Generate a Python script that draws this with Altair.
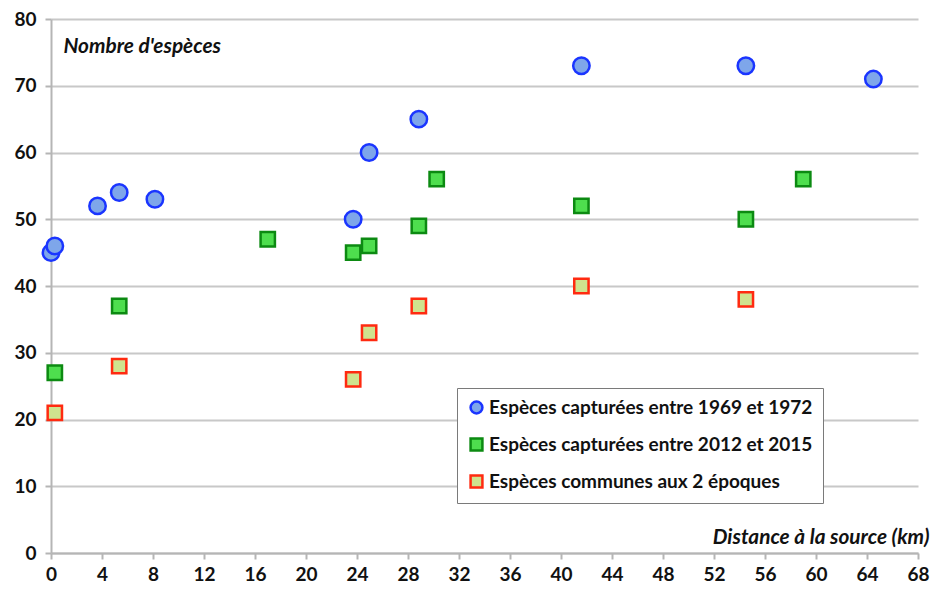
import altair as alt
import pandas as pd

s1_name = "Espèces capturées entre 1969 et 1972"
s2_name = "Espèces capturées entre 2012 et 2015"
s3_name = "Espèces communes aux 2 époques"

s1_x = [0.0, 0.3, 3.65, 5.35, 8.15, 23.7, 24.95, 28.85, 41.6, 54.5, 64.5]
s1_y = [45, 46, 52, 54, 53, 50, 60, 65, 73, 73, 71]

s2_x = [0.3, 5.35, 17.0, 23.7, 24.95, 28.85, 30.25, 41.6, 54.5, 59.0]
s2_y = [27, 37, 47, 45, 46, 49, 56, 52, 50, 56]

s3_x = [0.3, 5.35, 23.7, 24.95, 28.85, 41.6, 54.5]
s3_y = [21, 28, 26, 33, 37, 40, 38]

x_ticks = list(range(0, 69, 4))
y_ticks = list(range(0, 81, 10))

rows = []
for order, (name, xs, ys) in enumerate([(s1_name, s1_x, s1_y), (s2_name, s2_x, s2_y), (s3_name, s3_x, s3_y)]):
    for x, y in zip(xs, ys):
        rows.append({"serie": name, "x": x, "y": y, "ord": order})
df = pd.DataFrame(rows)

domain = [s1_name, s2_name, s3_name]
FONT = "Lato"

legend = alt.Legend(
    title=None, orient="none", legendX=406, legendY=369,
    fillColor="white", strokeColor="#7a7a7a", padding=10,
    labelFont=FONT, labelFontSize=19, labelFontWeight="bold", labelColor="#111",
    symbolSize=140, symbolStrokeWidth=2.5, rowPadding=14, labelOffset=3,
    labelLimit=400,
)

x_enc = alt.X("x:Q", scale=alt.Scale(domain=[0, 68], nice=False),
              axis=alt.Axis(values=x_ticks, title="Distance à la source (km)", grid=False,
                            labelFlush=False,
                            titleAngle=0, titleAlign="right", titleBaseline="middle",
                            titleX=878, titleY=-16, titleFont=FONT, titleFontSize=20.8,
                            titleFontStyle="italic", titleFontWeight="bold", titleColor="#111",
                            labelFont=FONT, labelFontSize=19, labelFontWeight="bold", labelColor="#111",
                            labelPadding=6, tickSize=6, tickColor="#b5b5b5", tickWidth=2,
                            domainColor="#b5b5b5", domainWidth=2))
y_enc = alt.Y("y:Q", scale=alt.Scale(domain=[0, 80], nice=False),
              axis=alt.Axis(values=y_ticks, title="Nombre d'espèces", grid=True,
                            labelFlush=False,
                            gridColor="#c8c8c8", gridWidth=2,
                            titleAngle=0, titleAlign="left", titleBaseline="middle",
                            titleX=12, titleY=27, titleFont=FONT, titleFontSize=20.8,
                            titleFontStyle="italic", titleFontWeight="bold", titleColor="#111",
                            labelFont=FONT, labelFontSize=19, labelFontWeight="bold", labelColor="#111",
                            labelPadding=9, tickSize=6, tickColor="#b5b5b5", tickWidth=2,
                            domainColor="#b5b5b5", domainWidth=2))

enc = dict(
    x=x_enc, y=y_enc,
    shape=alt.Shape("serie:N", scale=alt.Scale(domain=domain, range=["circle", "square", "square"]), legend=legend),
    fill=alt.Fill("serie:N", scale=alt.Scale(domain=domain, range=["#7ea6ea", "#4ede4e", "#cfe38e"]), legend=legend),
    stroke=alt.Stroke("serie:N", scale=alt.Scale(domain=domain, range=["#1a35ff", "#0c8a12", "#ff2a10"]), legend=legend),
)

base = alt.Chart(df)
circles = base.transform_filter(alt.datum.ord == 0).mark_point(
    filled=False, opacity=1, strokeWidth=2.5, size=270).encode(**enc)
squares = base.transform_filter(alt.datum.ord > 0).mark_point(
    filled=False, opacity=1, strokeWidth=2.5, size=205).encode(**enc)

chart = alt.layer(circles, squares).properties(
    width=867, height=534,
    autosize=alt.AutoSizeParams(type="none"),
    padding={"left": 43, "top": 11, "right": 13, "bottom": 30},
).configure_view(stroke=None)

chart.save("out.html", embed_options={"renderer": "svg", "actions": False})
